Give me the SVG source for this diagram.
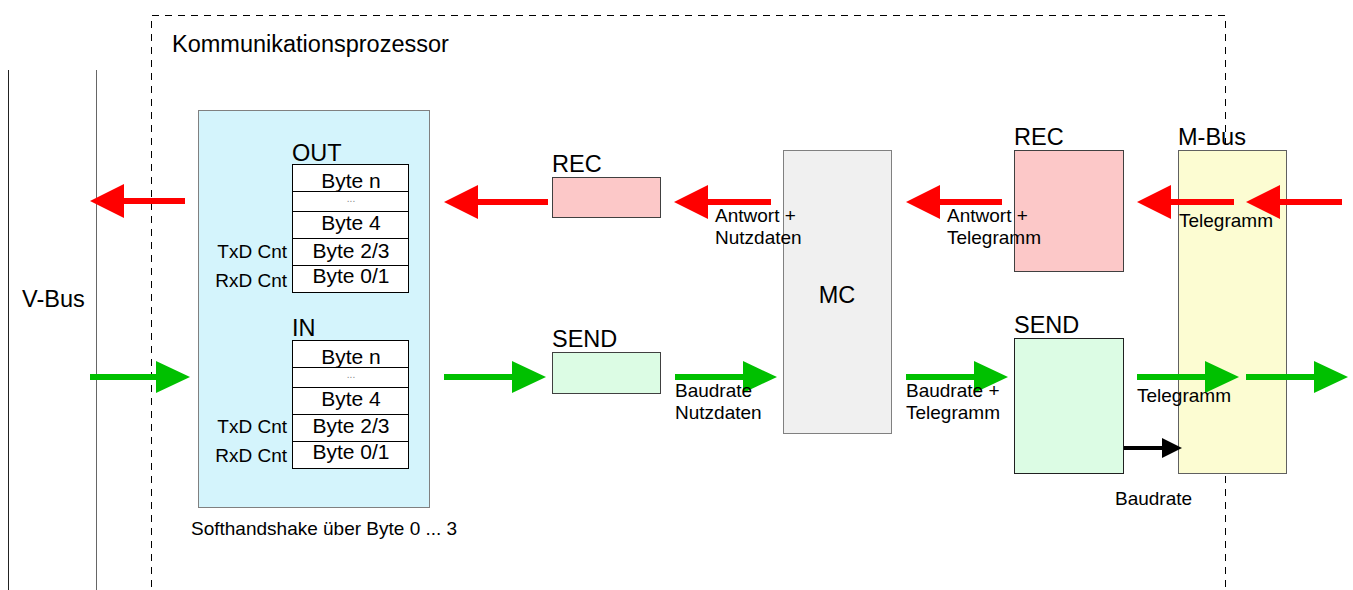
<svg xmlns="http://www.w3.org/2000/svg" width="1353" height="590" viewBox="0 0 1353 590">
<defs>
<style>
text{font-family:"Liberation Sans",Arial,sans-serif;fill:#000}
.big{font-size:23.5px}
.tb{font-size:21px}
.sm{font-size:19px}
.dots{font-size:10px;fill:#888}
.cell{fill:#fff;stroke:#000;stroke-width:1}
.red{stroke:#ff0000;stroke-width:6;fill:none}
.grn{stroke:#00c000;stroke-width:6;fill:none}
.blk{stroke:#000;stroke-width:4;fill:none}
</style>
<marker id="hr" markerUnits="userSpaceOnUse" markerWidth="34" markerHeight="34" refX="0" refY="17" orient="auto"><path d="M0,0 L34,17 L0,34 z" fill="#ff0000"/></marker>
<marker id="hg" markerUnits="userSpaceOnUse" markerWidth="34" markerHeight="32" refX="0" refY="16" orient="auto"><path d="M0,0 L34,16 L0,32 z" fill="#00c000"/></marker>
<marker id="hb" markerUnits="userSpaceOnUse" markerWidth="20" markerHeight="20" refX="0" refY="10" orient="auto"><path d="M0,0 L20,10 L0,20 z" fill="#000"/></marker>
</defs>
<rect width="1353" height="590" fill="#fff"/>

<g id="vbus">
<line x1="8.5" y1="70" x2="8.5" y2="590" stroke="#222" stroke-width="1"/>
<line x1="96.5" y1="70" x2="96.5" y2="590" stroke="#666" stroke-width="1"/>
<text class="big" x="22" y="307">V-Bus</text>
</g>

<g id="kommunikationsprozessor">
<path d="M151.5,600 V15.5 H1225.5 V600" fill="none" stroke="#000" stroke-width="1" stroke-dasharray="7,6"/>
<text class="big" x="172" y="52">Kommunikationsprozessor</text>
</g>

<g id="puffer">
<rect x="198.5" y="110.5" width="231" height="397" fill="#d4f4fc" stroke="#808080" stroke-width="1"/>
<text class="sm" x="191" y="535">Softhandshake über Byte 0 ... 3</text>
</g>

<g id="out-table">
<text class="big" x="292" y="161">OUT</text>
<rect class="cell" x="292.5" y="164.5" width="116" height="27"/>
<rect class="cell" x="292.5" y="191.5" width="116" height="20"/>
<rect class="cell" x="292.5" y="211.5" width="116" height="27"/>
<rect class="cell" x="292.5" y="238.5" width="116" height="27"/>
<rect class="cell" x="292.5" y="265.5" width="116" height="27"/>
<text class="tb" x="351" y="188" text-anchor="middle">Byte n</text>
<text class="dots" x="351" y="202" text-anchor="middle">...</text>
<text class="tb" x="351" y="230" text-anchor="middle">Byte 4</text>
<text class="tb" x="351" y="258" text-anchor="middle">Byte 2/3</text>
<text class="tb" x="351" y="283" text-anchor="middle">Byte 0/1</text>
<text class="sm" x="287" y="258" text-anchor="end">TxD Cnt</text>
<text class="sm" x="287" y="287" text-anchor="end">RxD Cnt</text>
</g>

<g id="in-table">
<text class="big" x="292" y="336">IN</text>
<rect class="cell" x="292.5" y="340.5" width="116" height="27"/>
<rect class="cell" x="292.5" y="367.5" width="116" height="20"/>
<rect class="cell" x="292.5" y="387.5" width="116" height="27"/>
<rect class="cell" x="292.5" y="414.5" width="116" height="27"/>
<rect class="cell" x="292.5" y="441.5" width="116" height="27"/>
<text class="tb" x="351" y="364" text-anchor="middle">Byte n</text>
<text class="dots" x="351" y="378" text-anchor="middle">...</text>
<text class="tb" x="351" y="406" text-anchor="middle">Byte 4</text>
<text class="tb" x="351" y="433" text-anchor="middle">Byte 2/3</text>
<text class="tb" x="351" y="459" text-anchor="middle">Byte 0/1</text>
<text class="sm" x="287" y="433" text-anchor="end">TxD Cnt</text>
<text class="sm" x="287" y="462" text-anchor="end">RxD Cnt</text>
</g>

<g id="rec1">
<rect x="552.5" y="177.5" width="108" height="40" fill="#fcc8c8" stroke="#404040" stroke-width="1"/>
<text class="big" x="552" y="172">REC</text>
</g>

<g id="send1">
<rect x="552.5" y="352.5" width="108" height="41" fill="#dcfce4" stroke="#404040" stroke-width="1"/>
<text class="big" x="552" y="347">SEND</text>
</g>

<g id="mc">
<rect x="783.5" y="150.5" width="108" height="283" fill="#f0f0f0" stroke="#808080" stroke-width="1"/>
<text class="big" x="837" y="303" text-anchor="middle">MC</text>
</g>

<g id="rec2">
<rect x="1014.5" y="150.5" width="109" height="121" fill="#fcc8c8" stroke="#404040" stroke-width="1"/>
<text class="big" x="1014" y="145">REC</text>
</g>

<g id="send2">
<rect x="1014.5" y="338.5" width="109" height="135" fill="#dcfce4" stroke="#202020" stroke-width="1"/>
<text class="big" x="1014" y="333">SEND</text>
</g>

<g id="mbus">
<rect x="1178.5" y="150.5" width="108" height="323" fill="#fcfcd2" stroke="#606060" stroke-width="1"/>
<text class="big" x="1178" y="145">M-Bus</text>
</g>

<g id="connectors">
<line class="red" x1="185" y1="201" x2="124" y2="201" marker-end="url(#hr)"/>
<line class="red" x1="548" y1="202" x2="478" y2="202" marker-end="url(#hr)"/>
<line class="red" x1="771" y1="202" x2="708" y2="202" marker-end="url(#hr)"/>
<line class="red" x1="1002" y1="202" x2="940" y2="202" marker-end="url(#hr)"/>
<line class="red" x1="1234" y1="202" x2="1171" y2="202" marker-end="url(#hr)"/>
<line class="red" x1="1342" y1="202" x2="1280" y2="202" marker-end="url(#hr)"/>
<line class="grn" x1="90" y1="377" x2="156" y2="377" marker-end="url(#hg)"/>
<line class="grn" x1="444" y1="377" x2="512" y2="377" marker-end="url(#hg)"/>
<line class="grn" x1="675" y1="377" x2="743" y2="377" marker-end="url(#hg)"/>
<line class="grn" x1="906" y1="377" x2="974" y2="377" marker-end="url(#hg)"/>
<line class="grn" x1="1137" y1="377" x2="1205" y2="377" marker-end="url(#hg)"/>
<line class="grn" x1="1246" y1="377" x2="1314" y2="377" marker-end="url(#hg)"/>
<line class="blk" x1="1124" y1="448" x2="1162" y2="448" marker-end="url(#hb)"/>
</g>

<g id="labels">
<text class="sm" x="715" y="222">Antwort +</text>
<text class="sm" x="715" y="244">Nutzdaten</text>
<text class="sm" x="675" y="397">Baudrate</text>
<text class="sm" x="675" y="419">Nutzdaten</text>
<text class="sm" x="947" y="222">Antwort +</text>
<text class="sm" x="947" y="244">Telegramm</text>
<text class="sm" x="1179" y="227">Telegramm</text>
<text class="sm" x="906" y="397">Baudrate +</text>
<text class="sm" x="906" y="419">Telegramm</text>
<text class="sm" x="1137" y="402">Telegramm</text>
<text class="sm" x="1115" y="505">Baudrate</text>
</g>
</svg>
